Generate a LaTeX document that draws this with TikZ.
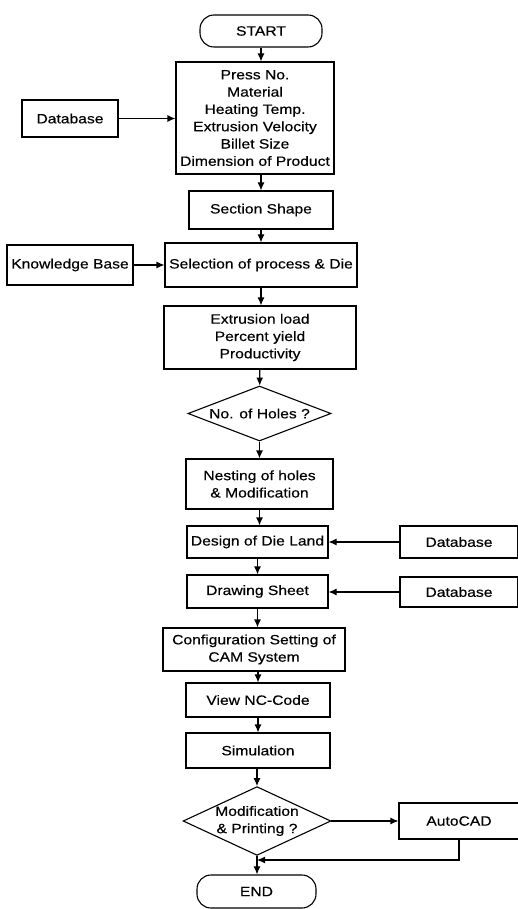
\documentclass[tikz,border=0pt]{standalone}
\usepackage{fontspec}
\setmainfont{Liberation Sans}[FakeStretch=1.16,FakeBold=0.4]
\usetikzlibrary{shapes.geometric,arrows.meta}
\begin{document}
\begin{tikzpicture}[x=1pt,y=-1pt,
  every node/.style={font=\fontsize{13.5}{17.3}\selectfont, align=center, inner sep=0pt, line width=1.1pt},
  box/.style={draw, rectangle},
  term/.style={draw, rectangle, rounded corners=14pt},
  diam/.style={draw, diamond},
  arr/.style={line width=1.1pt, -{Latex[length=8pt,width=7pt]}}]
\useasboundingbox (0,0) rectangle (517,909);
\node[term, minimum width=122pt, minimum height=32pt] (start) at (261,31) {START};
\node[box, minimum width=158pt, minimum height=112pt] (params) at (255,118) {Press No.\\Material\\Heating Temp.\\Extrusion Velocity\\Billet Size\\Dimension of Product};
\node[box, minimum width=96pt, minimum height=37pt] (db1) at (70,118.5) {Database};
\node[box, minimum width=144pt, minimum height=38pt] (section) at (261,210) {Section Shape};
\node[box, minimum width=192pt, minimum height=44pt] (select) at (261,265) {Selection of process \& Die};
\node[box, minimum width=126pt, minimum height=40pt] (kb) at (70,265) {Knowledge Base};
\node[box, minimum width=192pt, minimum height=63pt] (extr) at (260,337.5) {Extrusion load\\Percent yield\\Productivity};
\node[diam, aspect=2.6, minimum width=143pt, minimum height=55pt] (holes) at (259.5,413.5) {No. of Holes ?};
\node[box, minimum width=147pt, minimum height=50pt] (nest) at (259.5,484) {Nesting of holes\\\& Modification};
\node[box, minimum width=141pt, minimum height=32pt] (die) at (257.5,542) {Design of Die Land};
\node[box, minimum width=118pt, minimum height=32pt] (db2) at (459,542) {Database};
\node[box, minimum width=141pt, minimum height=33pt] (drawsheet) at (257.5,591.5) {Drawing Sheet};
\node[box, minimum width=118pt, minimum height=30pt] (db3) at (459,592) {Database};
\node[box, minimum width=182pt, minimum height=43pt] (config) at (254,649.5) {Configuration Setting of\\CAM System};
\node[box, minimum width=144pt, minimum height=34pt] (view) at (258,700) {View NC-Code};
\node[box, minimum width=144pt, minimum height=35pt] (sim) at (258,750.5) {Simulation};
\node[diam, aspect=2.15, minimum width=142pt, minimum height=66pt] (mod) at (257,821) {Modification\\\& Printing ?};
\node[box, minimum width=120pt, minimum height=36pt] (autocad) at (459,821) {AutoCAD};
\node[term, minimum width=119pt, minimum height=33pt] (end) at (256.5,891.5) {END};
\coordinate (join) at (257,860);

\draw[arr] (start) -- (start |- params.north);
\draw[arr] (db1) -- (db1 -| params.west);
\draw[arr] (section |- params.south) -- (section);
\draw[arr] (section) -- (section |- select.north);
\draw[arr] (kb) -- (select);
\draw[arr] (select) -- (select |- extr.north);
\draw[arr] (extr) -- (holes);
\draw[arr] (holes) -- (holes |- nest.north);
\draw[arr] (nest) -- (nest |- die.north);
\draw[arr] (db2) -- (die);
\draw[arr] (die) -- (drawsheet);
\draw[arr] (db3) -- (db3 -| drawsheet.east);
\draw[arr] (drawsheet) -- (drawsheet |- config.north);
\draw[arr] (view |- config.south) -- (view);
\draw[arr] (view) -- (sim);
\draw[arr] (mod |- sim.south) -- (mod);
\draw[arr] (mod) -- (autocad);
\draw[arr] (autocad.south) |- (join);
\draw[arr] (mod) -- (mod |- end.north);
\end{tikzpicture}
\end{document}
